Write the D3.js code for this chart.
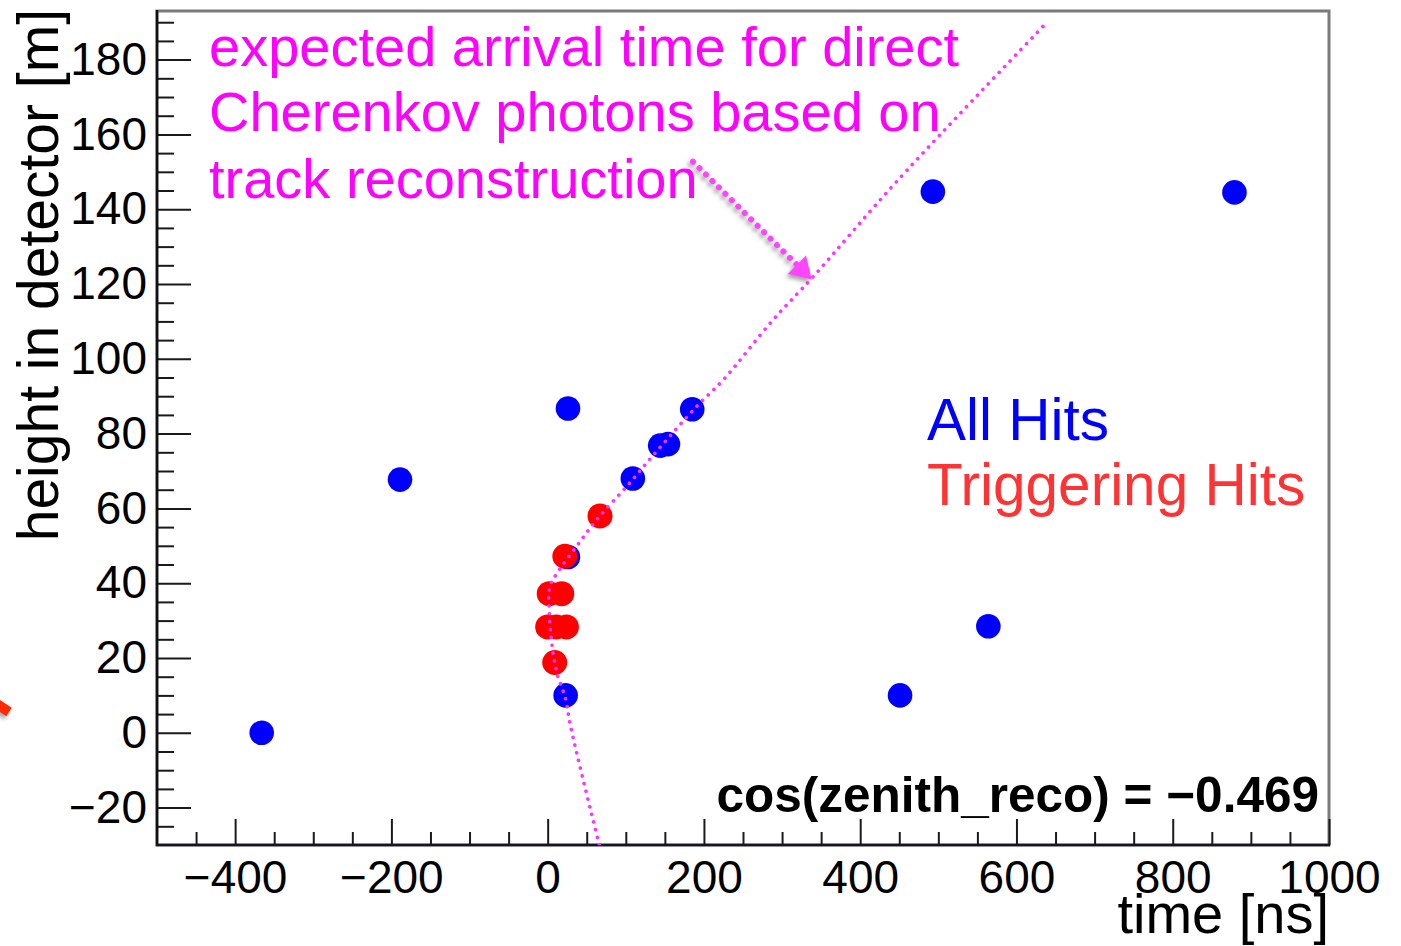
<!DOCTYPE html>
<html>
<head>
<meta charset="utf-8">
<script src="https://cdn.jsdelivr.net/npm/d3@7"></script>
<style>
  html, body { margin: 0; padding: 0; background: #ffffff; }
  svg { display: block; }
  text { font-family: "Liberation Sans", Arial, Helvetica, sans-serif; }
</style>
</head>
<body>
<svg id="chart" width="1401" height="946"></svg>
<script>
// ---------------- data ----------------
// All hits (blue): time [ns], height [m]
const allHitsTime   = [-366, -189, 26, 185, 144, 154, 109, 26, 23, 493, 879, 564, 451];
const allHitsHeight = [0, 67.7, 86.7, 86.5, 76.8, 77.2, 68, 47, 10, 144.7, 144.5, 28.5, 10];
// Triggering hits (red)
const trigHitsTime   = [67, 22, 2, 18, 0, 11, 24, 9];
const trigHitsHeight = [58, 47.2, 37.2, 37.2, 28.3, 28.3, 28.3, 18.8];
// Expected direct Cherenkov arrival time curve
const curveTime   = [66, 29, 23, 11.6, 5.2, 2.1, 3, 13.7, 37.2, 62.8, 101.2, 139.6, 190.8, 224.9, 288.8, 340, 448.8, 638.7];
const curveHeight = [-30, 2, 9, 16.2, 24.1, 32.1, 39.2, 43.2, 49.9, 57, 65.9, 75.3, 87.3, 94.4, 110.5, 122, 147.9, 189.9];
// Annotation arrow (time, height): start and tip
const arrowTime   = [186, 338];
const arrowHeight = [152.7, 121.2];
// Axis ticks
const xMajorTicks = [-400, -200, 0, 200, 400, 600, 800, 1000];
const xMinorTicks = [-450, -350, -300, -250, -150, -100, -50, 50, 100, 150, 250, 300, 350, 450, 500, 550, 650, 700, 750, 850, 900, 950];
const yMajorTicks = [-20, 0, 20, 40, 60, 80, 100, 120, 140, 160, 180];
const yMinorTicks = [-25, -15, -10, -5, 5, 10, 15, 25, 30, 35, 45, 50, 55, 65, 70, 75, 85, 90, 95, 105, 110, 115, 125, 130, 135, 145, 150, 155, 165, 170, 175, 185, 190];
// Texts
const annotationLines = ["expected arrival time for direct", "Cherenkov photons based on", "track reconstruction"];
const legendLabels = ["All Hits", "Triggering Hits"];
const xTitle = "time [ns]";
const yTitle = "height in detector [m]";
const infoText = "cos(zenith_reco) = \u22120.469";

// ---------------- layout ----------------
const svg = d3.select("#chart");
const L = 157, R = 1329, T = 11, B = 845;
const x = d3.scaleLinear().domain([-500, 1000]).range([L, R]);
const y = d3.scaleLinear().domain([-30, 193]).range([B, T]);

const defs = svg.append("defs");
const f = defs.append("filter").attr("id", "shadow").attr("x", "-50%").attr("y", "-50%").attr("width", "200%").attr("height", "200%");
f.append("feDropShadow").attr("dx", -2).attr("dy", 3).attr("stdDeviation", 2)
  .attr("flood-color", "#666").attr("flood-opacity", 0.6);
defs.append("clipPath").attr("id", "plotclip").append("rect")
  .attr("x", L).attr("y", T).attr("width", R - L).attr("height", B - T);

// stray red arrow fragment at left edge (cropped slide element)
svg.append("line").attr("x1", -20).attr("y1", 693).attr("x2", 9).attr("y2", 712)
  .attr("stroke", "#ff2a00").attr("stroke-width", 10).attr("filter", "url(#shadow)");

// frame
svg.append("rect").attr("x", L).attr("y", T).attr("width", R - L).attr("height", B - T)
  .attr("fill", "none").attr("stroke", "#7a7a7a").attr("stroke-width", 3);

// axes
const fmt = d3.format("d");
const xAxisMajor = d3.axisBottom(x).tickValues(xMajorTicks).tickSize(-26).tickPadding(15).tickFormat(fmt);
const xAxisMinor = d3.axisBottom(x).tickValues(xMinorTicks).tickSize(-13).tickFormat("");
const yAxisMajor = d3.axisLeft(y).tickValues(yMajorTicks).tickSize(-34).tickPadding(10).tickFormat(fmt);
const yAxisMinor = d3.axisLeft(y).tickValues(yMinorTicks).tickSize(-17).tickFormat("");

function styleAxis(g) {
  g.select(".domain").remove();
  g.selectAll(".tick line").attr("stroke", "#1a1a1a").attr("stroke-width", 2);
  g.selectAll(".tick text").attr("fill", "#000").attr("font-size", 46)
    .style("font-family", "'Liberation Sans', Arial, Helvetica, sans-serif");
}
svg.append("g").attr("transform", `translate(0,${B})`).call(xAxisMinor).call(styleAxis);
svg.append("g").attr("transform", `translate(0,${B})`).call(xAxisMajor).call(styleAxis);
svg.append("g").attr("transform", `translate(${L},0)`).call(yAxisMinor).call(styleAxis);
svg.append("g").attr("transform", `translate(${L},0)`).call(yAxisMajor).call(styleAxis);

// dark axis lines (left and bottom)
svg.append("line").attr("x1", L).attr("x2", L).attr("y1", T - 1).attr("y2", B + 1)
  .attr("stroke", "#111").attr("stroke-width", 2.5);
svg.append("line").attr("x1", L - 1).attr("x2", R + 1).attr("y1", B).attr("y2", B)
  .attr("stroke", "#15152a").attr("stroke-width", 2.5);

// axis titles
svg.append("text").attr("x", R).attr("y", 933).attr("text-anchor", "end")
  .attr("font-size", 56).attr("fill", "#000").text(xTitle);
svg.append("text").attr("transform", `translate(58,9) rotate(-90)`).attr("text-anchor", "end")
  .attr("font-size", 57).attr("fill", "#000").text(yTitle);

// points
const plot = svg.append("g").attr("clip-path", "url(#plotclip)");
const allHits = allHitsTime.map((t, i) => ({ t, h: allHitsHeight[i] }));
const trigHits = trigHitsTime.map((t, i) => ({ t, h: trigHitsHeight[i] }));
plot.selectAll("circle.all").data(allHits).join("circle").attr("class", "all")
  .attr("cx", d => x(d.t)).attr("cy", d => y(d.h)).attr("r", 12.3).attr("fill", "#0000ff");
plot.selectAll("circle.trig").data(trigHits).join("circle").attr("class", "trig")
  .attr("cx", d => x(d.t)).attr("cy", d => y(d.h)).attr("r", 12.5).attr("fill", "#ff0000");

// expected arrival curve (dotted magenta)
const curve = curveTime.map((t, i) => ({ t, h: curveHeight[i] }));
const line = d3.line().x(d => x(d.t)).y(d => y(d.h)).curve(d3.curveCatmullRom.alpha(0.5));
plot.append("path").datum(curve).attr("d", line).attr("fill", "none")
  .attr("stroke", "#ff33ff").attr("stroke-width", 3.6).attr("stroke-linecap", "round")
  .attr("stroke-dasharray", "0.1 7.8");

// annotation text
const ann = svg.append("g");
const annBaselines = [66, 131, 198];
annotationLines.forEach((s, i) => {
  ann.append("text").attr("x", 209).attr("y", annBaselines[i]).attr("font-size", 56)
    .attr("fill", "#ff00ff").text(s);
});

// annotation arrow
const ax0 = x(arrowTime[0]), ay0 = y(arrowHeight[0]);
const ax1 = x(arrowTime[1]), ay1 = y(arrowHeight[1]);
const dx = ax1 - ax0, dy = ay1 - ay0, len = Math.hypot(dx, dy);
const ux = dx / len, uy = dy / len;
const headLen = 21, headHalf = 13;
const bx = ax1 - ux * headLen, by = ay1 - uy * headLen;
const arrowG = svg.append("g").attr("filter", "url(#shadow)");
arrowG.append("line").attr("x1", ax0).attr("y1", ay0).attr("x2", bx).attr("y2", by)
  .attr("stroke", "#ff44ff").attr("stroke-width", 6).attr("stroke-linecap", "round")
  .attr("stroke-dasharray", "0.1 9");
arrowG.append("path")
  .attr("d", `M${ax1},${ay1} L${bx - uy * headHalf},${by + ux * headHalf} L${bx + uy * headHalf},${by - ux * headHalf} Z`)
  .attr("fill", "#ff44ff");

// legend
const legendColors = ["#0000ff", "#ff3333"];
const legendBaselines = [440, 505];
legendLabels.forEach((s, i) => {
  svg.append("text").attr("x", 927).attr("y", legendBaselines[i]).attr("font-size", 58.5)
    .attr("fill", legendColors[i]).text(s);
});

// info text
svg.append("text").attr("x", 1319).attr("y", 812).attr("text-anchor", "end")
  .attr("font-size", 49.5).attr("font-weight", "bold").attr("fill", "#000").text(infoText);
</script>
</body>
</html>
